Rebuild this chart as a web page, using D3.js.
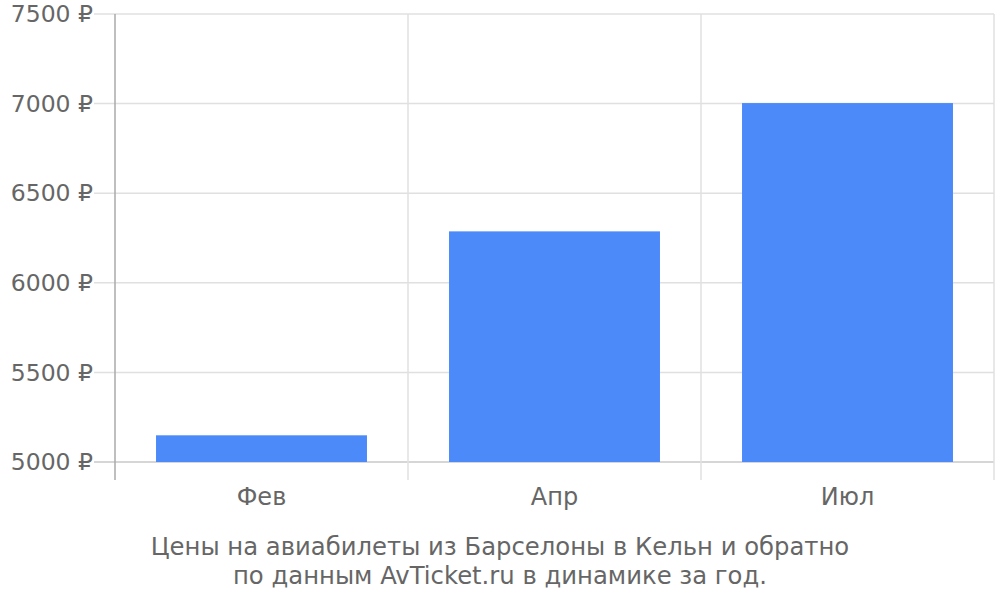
<!DOCTYPE html>
<html>
<head>
<meta charset="utf-8">
<script src="https://cdn.jsdelivr.net/npm/d3@7"></script>
<style>
  body { margin: 0; background: #fff; }
  text { font-family: "DejaVu Sans", sans-serif; fill: #666; }
</style>
</head>
<body>
<svg id="chart" width="1000" height="600"></svg>
<script>
// chart data
var months = ["Фев", "Апр", "Июл"];
var prices = [5149, 6287, 7003];
var yTicks = [5000, 5500, 6000, 6500, 7000, 7500];
var captionLines = ["Цены на авиабилеты из Барселоны в Кельн и обратно", "по данным AvTicket.ru в динамике за год."];

var svg = d3.select("#chart"),
    plotLeft = 115, plotRight = 994, plotTop = 14, plotBottom = 462;

var xScale = d3.scaleBand().domain(months).range([plotLeft, plotRight]).paddingInner(0.28).paddingOuter(0.14);
var xGrid = d3.scaleBand().domain(months).range([plotLeft, plotRight]);
var yScale = d3.scaleLinear().domain([5000, 7500]).range([plotBottom, plotTop]);

// horizontal grid
svg.append("g")
    .selectAll("line")
    .data(yTicks)
    .enter().append("line")
    .attr("x1", 94).attr("x2", plotRight)
    .attr("y1", function (d) { return yScale(d); })
    .attr("y2", function (d) { return yScale(d); })
    .attr("stroke", function (d) { return d === 5000 ? "#c8c8c8" : "#e0e0e0"; })
    .attr("stroke-width", 1.5);

// vertical grid at category boundaries
svg.append("g")
    .selectAll("line")
    .data(months)
    .enter().append("line")
    .attr("x1", function (d) { return xGrid(d) + xGrid.bandwidth(); })
    .attr("x2", function (d) { return xGrid(d) + xGrid.bandwidth(); })
    .attr("y1", plotTop).attr("y2", 480)
    .attr("stroke", "#e0e0e0")
    .attr("stroke-width", 1.5);

// bars
svg.append("g")
    .selectAll("rect")
    .data(prices)
    .enter().append("rect")
    .attr("x", function (d, i) { return xScale(months[i]); })
    .attr("width", xScale.bandwidth())
    .attr("y", function (d) { return yScale(d); })
    .attr("height", function (d) { return yScale(5000) - yScale(d); })
    .attr("fill", "#4d8af9");

// y axis line
svg.append("line")
    .attr("x1", plotLeft).attr("x2", plotLeft)
    .attr("y1", plotTop).attr("y2", 480)
    .attr("stroke", "#aaa")
    .attr("stroke-width", 1.5);

// y labels
svg.append("g")
    .selectAll("text")
    .data(yTicks)
    .enter().append("text")
    .attr("x", 93)
    .attr("y", function (d) { return yScale(d); })
    .attr("dy", "0.35em")
    .attr("text-anchor", "end")
    .style("font-size", "23.5px")
    .text(function (d) { return d + " ₽"; });

// x labels
svg.append("g")
    .selectAll("text")
    .data(months)
    .enter().append("text")
    .attr("x", function (d) { return xGrid(d) + xGrid.bandwidth() / 2; })
    .attr("y", 505)
    .attr("text-anchor", "middle")
    .style("font-size", "24px")
    .text(function (d) { return d; });

// caption
svg.append("g")
    .selectAll("text")
    .data(captionLines)
    .enter().append("text")
    .attr("x", 500)
    .attr("y", function (d, i) { return 555 + i * 29; })
    .attr("text-anchor", "middle")
    .style("font-size", "24.3px")
    .text(function (d) { return d; });
</script>
</body>
</html>
